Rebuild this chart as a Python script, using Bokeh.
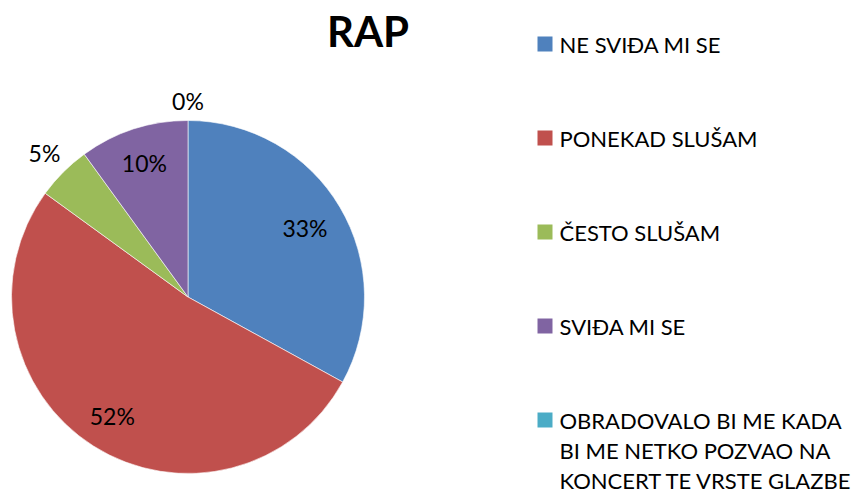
import math
import textwrap
from bokeh.plotting import figure
from bokeh.models import Range1d, ColumnDataSource
from bokeh.core.properties import value
from bokeh.embed import file_html
from bokeh.resources import INLINE

# ---- data ----
title = "RAP"
categories = [
    "NE SVIĐA MI SE",
    "PONEKAD SLUŠAM",
    "ČESTO SLUŠAM",
    "SVIĐA MI SE",
    "OBRADOVALO BI ME KADA BI ME NETKO POZVAO NA KONCERT TE VRSTE GLAZBE",
]
shares = [33, 52, 5, 10, 0]
colors = ["#4F81BD", "#C0504D", "#9BBB59", "#8064A2", "#4BACC6"]
label_radius = [0.77, 0.80, 1.15, 0.80, 1.11]

# ---- layout (pixels, measured from top-left) ----
W, H = 858, 494
FONT = "Lato"


def Y(top):
    return H - top


cx, cy = 187.5, Y(296.5)
R = 176.5

p = figure(width=W, height=H, output_backend="svg", toolbar_location=None,
           x_range=Range1d(0, W), y_range=Range1d(0, H),
           min_border=0, outline_line_color=None)
p.axis.visible = False
p.grid.visible = False
p.background_fill_color = "white"
p.border_fill_color = "white"

total = sum(shares)
ws, we, wc = [], [], []
lx, ly, texts = [], [], []
cum = 0.0
for s, rf, c in zip(shares, label_radius, colors):
    a0 = math.pi / 2 - 2 * math.pi * cum / total
    cum += s
    a1 = math.pi / 2 - 2 * math.pi * cum / total
    if s > 0:
        ws.append(a0)
        we.append(a1)
        wc.append(c)
    mid = (a0 + a1) / 2
    lx.append(cx + rf * R * math.cos(mid))
    ly.append(cy + rf * R * math.sin(mid))
    texts.append(f"{round(100 * s / total)}%")

src = ColumnDataSource(dict(start=ws, end=we, color=wc))
p.wedge(x=cx, y=cy, radius=R, start_angle="start", end_angle="end",
        direction="clock", fill_color="color", line_color="white",
        line_width=0.6, source=src)

p.text(x=lx, y=ly, text=texts, text_font=value(FONT),
       text_font_size=value("23px"), text_color="black",
       text_align="center", text_baseline="middle")

# title
p.text(x=[367.5], y=[Y(30)], text=[title], text_font=value(FONT),
       text_font_size=value("42px"), text_font_style="bold",
       text_color="black", text_align="center", text_baseline="middle")

# legend
item_top = 43.5
item_step = 94
line_step = 30
sq_x, sq_y = [], []
tx, ty, tt = [], [], []
for i, c in enumerate(categories):
    yc = item_top + i * item_step
    sq_x.append(544.5)
    sq_y.append(Y(yc))
    for j, line in enumerate(textwrap.wrap(c, 23)):
        tx.append(559)
        ty.append(Y(yc + j * line_step))
        tt.append(line)

p.scatter(x=sq_x, y=sq_y, marker="square", size=15,
          fill_color=colors, line_color=None)
p.text(x=tx, y=ty, text=tt, text_font=value(FONT),
       text_font_size=value("22px"), text_color="black",
       text_align="left", text_baseline="middle")

open("out.html", "w").write(file_html(p, INLINE))
